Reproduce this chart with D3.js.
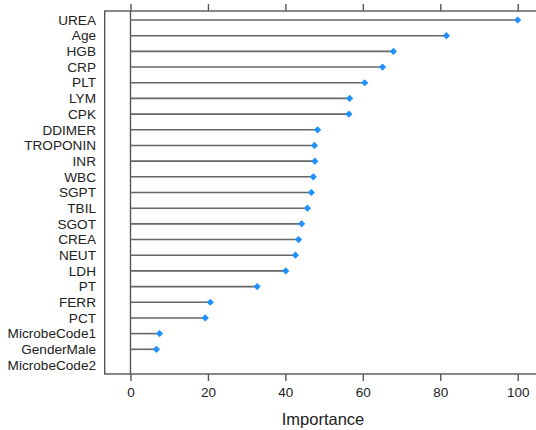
<!DOCTYPE html>
<html><head><meta charset="utf-8">
<script src="https://cdn.jsdelivr.net/npm/d3@7"></script>
<style>body{margin:0;background:#fff}svg{display:block}</style>
</head><body>
<svg id="c" width="536" height="430"></svg>
<script>
const categories = ["UREA","Age","HGB","CRP","PLT","LYM","CPK","DDIMER","TROPONIN","INR","WBC","SGPT","TBIL","SGOT","CREA","NEUT","LDH","PT","FERR","PCT","MicrobeCode1","GenderMale","MicrobeCode2"];
const importance = [100,81.6,67.9,65.1,60.5,56.6,56.4,48.3,47.5,47.6,47.2,46.7,45.7,44.2,43.4,42.6,40.1,32.7,20.6,19.3,7.5,6.7,0];
const xTicks = [0,20,40,60,80,100];
const xLabel = "Importance";

(function(){
const svg = d3.select("#c");
const x = d3.scaleLinear().domain([0,100]).range([130.5,517.7]);
const y = d3.scaleLinear().domain([-0.575, categories.length - 1 + 0.575]).range([11,374]);
const font = "'Liberation Sans', Arial, sans-serif";
const lineCol = "#555";

const xL = x.invert(104.7), xR = 100 + (0 - xL);
// box
svg.append("rect").attr("x", x(xL)).attr("y", y.range()[0])
  .attr("width", x(xR)-x(xL)).attr("height", y.range()[1]-y.range()[0])
  .attr("fill","none").attr("stroke",lineCol).attr("stroke-width",1.4);

// bottom axis
const bottomAx = svg.append("g").attr("transform",`translate(0,${y.range()[1]})`)
  .call(d3.axisBottom(x).tickValues(xTicks).tickSize(7).tickPadding(6));
bottomAx.select(".domain").remove();
bottomAx.selectAll("line").attr("stroke",lineCol).attr("stroke-width",1.4);
bottomAx.selectAll("text").attr("font-family",font).attr("font-size",13.5).attr("fill","#222");

// top axis (ticks only)
const topAx = svg.append("g").attr("transform",`translate(0,${y.range()[0]})`)
  .call(d3.axisTop(x).tickValues(xTicks).tickSize(7).tickFormat(""));
topAx.select(".domain").remove();
topAx.selectAll("line").attr("stroke",lineCol).attr("stroke-width",1.4);

// zero line
svg.append("line").attr("x1",x(0)).attr("x2",x(0))
  .attr("y1",y.range()[0]).attr("y2",y.range()[1])
  .attr("stroke",lineCol).attr("stroke-width",1.4);

// lollipops
svg.append("g").selectAll("line").data(categories).join("line")
  .attr("x1",x(0)).attr("x2",(d,i)=>x(importance[i]))
  .attr("y1",(d,i)=>y(i)).attr("y2",(d,i)=>y(i))
  .attr("stroke","#666").attr("stroke-width",1.6);

svg.append("g").selectAll("path").data(categories).join("path")
  .filter((d,i)=>importance[i] > 0)
  .attr("d", d3.symbol().type(d3.symbolSquare).size(26))
  .attr("transform",(d)=>{const i=categories.indexOf(d);return `translate(${x(importance[i])},${y(i)}) rotate(45)`;})
  .attr("fill","#1E90FF");

// labels
svg.append("g").selectAll("text").data(categories).join("text")
  .attr("x",96).attr("y",(d,i)=>y(i)).attr("dy","0.35em")
  .attr("text-anchor","end").attr("font-family",font).attr("font-size",13.6)
  .attr("fill","#222").text(d=>d);

svg.append("text").attr("x",323).attr("y",425)
  .attr("text-anchor","middle").attr("font-family",font).attr("font-size",16.5)
  .attr("fill","#222").text(xLabel);
})();
</script>
</body></html>
